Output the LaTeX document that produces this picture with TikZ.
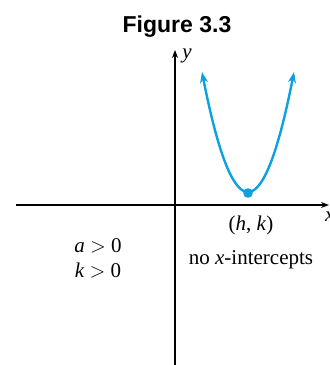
\documentclass[tikz,border=0pt]{standalone}
\usepackage{fontspec}
\setmainfont{Liberation Serif}
\newfontfamily\titlefont{Liberation Sans}
\usetikzlibrary{arrows.meta}
\definecolor{curveblue}{RGB}{12,160,226}
\tikzset{
  axis/.style={line width=1.1bp, -{Stealth[length=8bp,width=6bp]}},
  curve/.style={curveblue, line width=2.4bp},
  lbl/.style={font=\fontsize{21bp}{25bp}\selectfont, inner sep=0pt},
}
\newcommand{\gtsym}{\ \mbox{$>$}\ }
\begin{document}
\begin{tikzpicture}[x=1bp,y=-1bp]
\useasboundingbox (0,0) rectangle (330,365);
\fill[white] (0,0) rectangle (330,365);
% title
\node[font=\titlefont\bfseries\fontsize{23bp}{26bp}\selectfont, anchor=base, inner sep=0pt] (title) at (177,32) {Figure 3.3};
% axes
\coordinate (xl) at (16,205);
\coordinate (xr) at (329,205);
\coordinate (yb) at (175,366);
\coordinate (yt) at (175,50);
\draw[axis] (xl) -- (xr);
\draw[axis] (yb) -- (yt);
\node[lbl, font=\itshape\fontsize{21bp}{25bp}\selectfont] (ylab) at (187,56) {y};
\node[lbl, font=\itshape\fontsize{21bp}{25bp}\selectfont, anchor=west] (xlab) at (325,217) {x};
% parabola
\draw[curve, {Stealth[length=11bp,width=8bp]}-{Stealth[length=11bp,width=8bp]}]
  plot[domain=-46:46, samples=80, smooth] ({248+\x},{192-0.0567*\x*\x});
\fill[curveblue] (248,193) circle (4.8bp) coordinate (v);
% labels
\node[lbl] (hk) at (251,225) {(\textit{h}, \textit{k})};
\node[lbl] (a) at (98,246) {\textit{a}\gtsym 0};
\node[lbl] (k) at (98,270) {\textit{k}\gtsym 0};
\node[lbl] (nox) at (251,260) {no \textit{x}-intercepts};
\end{tikzpicture}
\end{document}
